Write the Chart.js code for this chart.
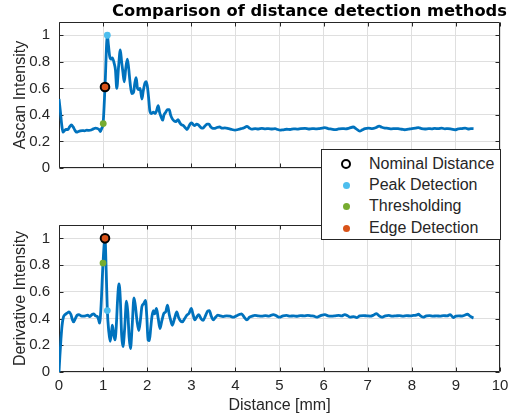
<!DOCTYPE html>
<html>
<head>
<meta charset="utf-8">
<script src="https://cdn.jsdelivr.net/npm/chart.js@4.4.1/dist/chart.umd.min.js"></script>
<style>
html,body{margin:0;padding:0;background:#fff;}
#wrap{position:relative;width:518px;height:420px;overflow:hidden;background:#fff;}
#c1{position:absolute;left:0;top:0;}
#c2{position:absolute;left:0;top:200px;}
#title{position:absolute;left:112px;top:1px;white-space:nowrap;font:bold 16.3px "DejaVu Sans",sans-serif;color:#000;line-height:19px;}
#legend{position:absolute;left:321px;top:149px;width:178px;height:89px;border:1px solid #262626;background:#fff;z-index:5;font:16px "Liberation Sans",Arial,sans-serif;color:#262626;}
.row{position:absolute;left:0;height:20px;width:178px;}
.row span.t{position:absolute;left:47px;top:0;line-height:20px;white-space:nowrap;}
.row span.m{position:absolute;border-radius:50%;}
</style>
</head>
<body>
<div id="wrap">
<canvas id="c1" width="518" height="200"></canvas>
<canvas id="c2" width="518" height="220"></canvas>
<div id="title">Comparison of distance detection methods</div>
<div id="legend"></div>
</div>
<script>
// ---- data ----
const xTicks = [0,1,2,3,4,5,6,7,8,9,10];
const yTicks = [0,0.2,0.4,0.6,0.8,1];

const ascanX = [0,0.03,0.06,0.09,0.12,0.16,0.20,0.24,0.28,0.32,
0.36,0.40,0.44,0.48,0.53,0.58,0.63,0.68,0.73,0.78,
0.83,0.87,0.91,0.94,0.97,1.00,1.043,1.096,1.12,1.15,
1.18,1.21,1.25,1.28,1.31,1.35,1.39,1.42,1.45,1.48,
1.51,1.55,1.58,1.61,1.65,1.69,1.72,1.75,1.78,1.81,
1.84,1.88,1.91,1.95,1.98,2.01,2.04,2.06,2.10,2.14,
2.18,2.21,2.25,2.28,2.31,2.35,2.38,2.42,2.46,2.50,
2.53,2.57,2.61,2.65,2.70,2.74,2.78,2.82,2.86,2.90,
2.94,2.98,3.01,3.05,3.08,3.12,3.16,3.20,3.24,3.28,
3.32,3.36,3.40,3.44,3.48,3.52,3.58,3.64,3.70,3.76,
3.85,3.92,3.99,4.06,4.13,4.20,4.26,4.32,4.37,4.45,
4.52,4.60,4.68,4.75,4.83,4.90,4.96,5.01,5.08,5.16,
5.24,5.32,5.40,5.48,5.58,5.66,5.74,5.82,5.90,5.97,
6.03,6.10,6.18,6.26,6.34,6.42,6.50,6.58,6.67,6.74,
6.82,6.88,6.94,7.02,7.10,7.18,7.26,7.32,7.39,7.46,
7.54,7.62,7.69,7.77,7.84,7.92,8.00,8.08,8.15,8.22,
8.30,8.38,8.45,8.52,8.60,8.68,8.75,8.82,8.90,8.98,
9.05,9.13,9.21,9.28,9.34,9.40];
const ascanY = [0.52,0.43,0.33,0.27,0.28,0.29,0.29,0.31,0.325,0.31,
0.285,0.27,0.275,0.28,0.282,0.28,0.285,0.283,0.286,0.295,
0.30,0.298,0.29,0.275,0.30,0.335,0.61,1.00,0.93,0.84,
0.82,0.83,0.79,0.74,0.60,0.76,0.89,0.80,0.72,0.65,
0.74,0.82,0.75,0.65,0.56,0.57,0.64,0.68,0.60,0.59,
0.60,0.52,0.58,0.64,0.65,0.60,0.50,0.43,0.41,0.42,
0.41,0.43,0.47,0.42,0.39,0.36,0.40,0.42,0.44,0.44,
0.40,0.37,0.355,0.35,0.365,0.34,0.325,0.32,0.305,0.29,
0.31,0.335,0.34,0.325,0.32,0.33,0.325,0.31,0.30,0.305,
0.32,0.33,0.33,0.31,0.30,0.298,0.305,0.31,0.30,0.302,
0.296,0.29,0.285,0.29,0.296,0.303,0.314,0.30,0.293,0.297,
0.294,0.299,0.295,0.297,0.294,0.296,0.29,0.285,0.288,0.292,
0.29,0.295,0.293,0.297,0.299,0.294,0.297,0.295,0.297,0.30,
0.304,0.297,0.293,0.289,0.294,0.297,0.295,0.30,0.309,0.295,
0.278,0.288,0.297,0.30,0.297,0.303,0.316,0.307,0.301,0.299,
0.295,0.297,0.296,0.292,0.288,0.292,0.297,0.30,0.304,0.297,
0.294,0.297,0.295,0.299,0.296,0.30,0.295,0.297,0.293,0.288,
0.294,0.297,0.301,0.294,0.297,0.296];

const derivX = [0,0.02,0.045,0.07,0.10,0.14,0.18,0.23,0.27,0.30,
0.33,0.37,0.41,0.45,0.50,0.55,0.60,0.65,0.70,0.75,
0.79,0.83,0.87,0.90,0.92,0.95,0.998,1.043,1.07,1.096,
1.13,1.16,1.19,1.21,1.24,1.27,1.30,1.33,1.36,1.39,
1.42,1.45,1.49,1.53,1.56,1.59,1.62,1.66,1.70,1.73,
1.77,1.81,1.85,1.88,1.92,1.96,1.99,2.02,2.05,2.08,
2.11,2.14,2.17,2.21,2.25,2.29,2.33,2.38,2.42,2.46,
2.50,2.53,2.57,2.62,2.67,2.71,2.75,2.80,2.85,2.90,
2.95,3.00,3.04,3.08,3.12,3.17,3.22,3.27,3.32,3.37,
3.41,3.45,3.50,3.55,3.60,3.66,3.72,3.80,3.88,3.95,
4.02,4.09,4.14,4.20,4.26,4.32,4.38,4.44,4.52,4.60,
4.68,4.76,4.86,4.93,5.00,5.08,5.16,5.24,5.32,5.40,
5.48,5.56,5.64,5.72,5.78,5.84,5.92,6.03,6.10,6.18,
6.26,6.34,6.41,6.48,6.55,6.60,6.68,6.75,6.82,6.90,
6.98,7.06,7.13,7.20,7.26,7.32,7.40,7.48,7.56,7.64,
7.72,7.80,7.88,7.96,8.04,8.10,8.15,8.20,8.26,8.33,
8.40,8.48,8.56,8.64,8.72,8.80,8.87,8.94,9.00,9.07,
9.14,9.20,9.26,9.32,9.38,9.40];
const derivY = [0,0.12,0.25,0.35,0.41,0.43,0.44,0.45,0.43,0.395,
0.375,0.40,0.425,0.43,0.42,0.418,0.42,0.425,0.415,0.43,
0.435,0.42,0.415,0.39,0.365,0.47,0.815,1.00,0.76,0.46,
0.30,0.23,0.30,0.35,0.28,0.24,0.35,0.55,0.66,0.55,
0.28,0.19,0.33,0.53,0.45,0.26,0.175,0.35,0.555,0.50,
0.38,0.31,0.40,0.49,0.51,0.535,0.42,0.24,0.235,0.33,
0.42,0.46,0.435,0.475,0.40,0.325,0.38,0.44,0.45,0.50,
0.43,0.39,0.35,0.40,0.45,0.41,0.385,0.375,0.40,0.425,
0.44,0.475,0.43,0.39,0.41,0.43,0.40,0.387,0.42,0.455,
0.46,0.42,0.39,0.41,0.425,0.42,0.415,0.42,0.418,0.41,
0.42,0.43,0.435,0.41,0.39,0.41,0.418,0.424,0.42,0.418,
0.422,0.418,0.43,0.42,0.41,0.42,0.423,0.418,0.42,0.417,
0.422,0.42,0.424,0.42,0.418,0.41,0.42,0.43,0.42,0.418,
0.42,0.423,0.42,0.43,0.42,0.41,0.415,0.407,0.42,0.422,
0.42,0.418,0.425,0.437,0.42,0.41,0.42,0.423,0.418,0.42,
0.422,0.418,0.422,0.42,0.423,0.425,0.432,0.42,0.41,0.42,
0.422,0.418,0.42,0.418,0.422,0.42,0.43,0.407,0.418,0.42,
0.418,0.425,0.432,0.418,0.407,0.405];

// detection methods: Nominal, Peak, Thresholding, Edge
const methodNames = ['Nominal Distance','Peak Detection','Thresholding','Edge Detection'];
const ascanMarkX = [1.043, 1.096, 1.003, 1.043];
const ascanMarkY = [0.61, 1.00, 0.335, 0.61];
const derivMarkX = [1.043, 1.096, 0.998, 1.043];
const derivMarkY = [1.00, 0.46, 0.815, 1.00];

// ---- styling ----
const LINE = '#0072BD';
const methodColors = ['#000000','#4DBEEE','#77AC30','#D95319'];
const AXC = '#262626';
const GRID = '#dfdfdf';
const FONT = '"Liberation Sans", Arial, sans-serif';

function pts(xs, ys){ const n=Math.min(xs.length, ys.length); const o=[]; for(let i=0;i<n;i++) o.push({x:xs[i], y:ys[i]}); return o; }

const frame = {
  id:'frame',
  beforeDatasetsDraw(chart){
    const {ctx, chartArea:a, scales} = chart;
    const xs = scales.x, ys = scales.y;
    ctx.save();
    ctx.strokeStyle = AXC; ctx.lineWidth = 1;
    const L = Math.round(a.left)+0.5, R = Math.round(a.right)-0.5, T = Math.round(a.top)+0.5, B = Math.round(a.bottom)-0.5;
    ctx.beginPath();
    ctx.rect(L, T, R-L, B-T);
    const tl = 4;
    xTicks.forEach(v=>{ const p = Math.round(xs.getPixelForValue(v))+0.5; ctx.moveTo(p,B); ctx.lineTo(p,B-tl); ctx.moveTo(p,T); ctx.lineTo(p,T+tl); });
    yTicks.forEach(v=>{ const p = Math.round(ys.getPixelForValue(v))+0.5; ctx.moveTo(L,p); ctx.lineTo(L+tl,p); ctx.moveTo(R,p); ctx.lineTo(R-tl,p); });
    ctx.stroke();
    ctx.restore();
  }
};

function markerSets(mx, my){
  // index 0 nominal (ring), 1 peak, 2 threshold, 3 edge
  return [
    {label:methodNames[0], data:[{x:mx[0],y:my[0]}], showLine:false, pointRadius:4.3, pointBorderWidth:2, pointBackgroundColor:'rgba(0,0,0,0)', pointBorderColor:methodColors[0], order:0},
    {label:methodNames[3], data:[{x:mx[3],y:my[3]}], showLine:false, pointRadius:4, pointBorderWidth:0, pointBackgroundColor:methodColors[3], order:1},
    {label:methodNames[1], data:[{x:mx[1],y:my[1]}], showLine:false, pointRadius:3.4, pointBorderWidth:0, pointBackgroundColor:methodColors[1], order:2},
    {label:methodNames[2], data:[{x:mx[2],y:my[2]}], showLine:false, pointRadius:3.4, pointBorderWidth:0, pointBackgroundColor:methodColors[2], order:3}
  ];
}

function makeChart(id, lineData, mx, my, ylabel, showX, pad, xHeight){
  return new Chart(document.getElementById(id), {
    type:'line',
    data:{ datasets:[
      {label:'signal', data:lineData, borderColor:LINE, borderWidth:2.8, pointRadius:0, cubicInterpolationMode:'monotone', order:4, fill:false},
      ...markerSets(mx, my)
    ]},
    options:{
      responsive:false, animation:false, devicePixelRatio:1,
      layout:{padding:pad},
      plugins:{legend:{display:false}, tooltip:{enabled:false}, title:{display:false}},
      scales:{
        x:{type:'linear', min:0, max:10,
           afterBuildTicks(s){ s.ticks = xTicks.map(v=>({value:v})); },
           afterFit(s){ s.height = xHeight; },
           grid:{color:GRID, lineWidth:1, drawTicks:false},
           border:{display:false},
           ticks:{display:showX, padding:5, color:AXC, font:{family:FONT, size:15}, maxRotation:0, callback:v=>String(v)},
           title:{display:showX, text:'Distance [mm]', color:AXC, font:{family:FONT, size:16}, padding:{top:0,bottom:5}}
        },
        y:{type:'linear', min:0, max:1.1,
           afterBuildTicks(s){ s.ticks = yTicks.map(v=>({value:v})); },
           afterFit(s){ s.width = 59; },
           grid:{color:GRID, lineWidth:1, drawTicks:false},
           border:{display:false},
           ticks:{padding:9, color:AXC, font:{family:FONT, size:15}, callback:v=>String(Math.round(v*10)/10)},
           title:{display:true, text:ylabel, color:AXC, font:{family:FONT, size:16}, padding:{top:11,bottom:0}}
        }
      }
    },
    plugins:[frame]
  });
}

makeChart('c1', pts(ascanX, ascanY), ascanMarkX, ascanMarkY, 'Ascan Intensity', false, {left:0,right:18,top:22,bottom:32}, 0);
makeChart('c2', pts(derivX, derivY), derivMarkX, derivMarkY, 'Derivative Intensity', true, {left:0,right:18,top:25,bottom:0}, 48);

// legend (HTML overlay spanning both axes)
const rowsY = [4, 25, 46, 68];
const leg = document.getElementById('legend');
methodNames.forEach((name,i)=>{
  const r = document.createElement('div'); r.className='row'; r.style.top = rowsY[i]+'px';
  const m = document.createElement('span'); m.className='m';
  if(i===0){ m.style.width='6px'; m.style.height='6px'; m.style.left='19px'; m.style.top='5px'; m.style.border='2px solid #000'; }
  else { m.style.width='7px'; m.style.height='7px'; m.style.left='20.5px'; m.style.top='6.5px'; m.style.background=methodColors[i]; }
  const t = document.createElement('span'); t.className='t'; t.textContent=name;
  r.appendChild(m); r.appendChild(t); leg.appendChild(r);
});
</script>
</body>
</html>
